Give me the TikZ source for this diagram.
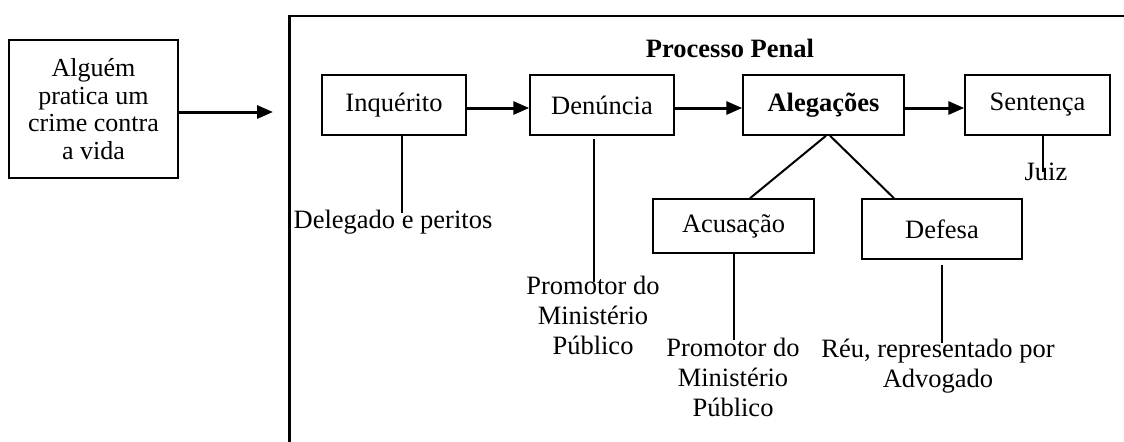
\documentclass[tikz,border=0pt]{standalone}
\usepackage{fontspec}
\setmainfont{Liberation Serif}
\usetikzlibrary{arrows.meta,calc}
\newcommand{\stk}[1]{\begin{tabular}[t]{@{}c@{}}#1\end{tabular}}
\begin{document}
\begin{tikzpicture}[x=0.5pt,y=-0.5pt,
  every node/.style={font=\fontsize{13.25}{15}\selectfont, inner sep=0pt},
  box/.style={draw, line width=0.75pt, minimum height=30pt},
  arr/.style={line width=1.5pt, -{Triangle[length=8pt,width=6.5pt]}},
  conn/.style={line width=1pt},
  frame/.style={line width=1.25pt}]
\useasboundingbox (0,0) rectangle (1124,441);
% left box
\node[box, minimum width=84.5pt, minimum height=69pt, align=center,
      font=\fontsize{13}{13.75}\selectfont] (start) at (93.5,109)
      {Alguém\\pratica um\\crime contra\\a vida};
\coordinate (tip) at (273,112);
\draw[arr] (start.east |- tip) -- (tip);
% frame
\coordinate (fb) at (289.5,443);
\coordinate (fc) at (289.5,16);
\coordinate (fr) at (1126,16);
\draw[frame] (fb) -- (fc) -- (fr);
\node[font=\bfseries\fontsize{13.25}{15}\selectfont, anchor=base] (title) at (730,57) {Processo Penal};
% main boxes
\node[box, minimum width=72pt] (inq) at (394,105) {Inquérito};
\node[box, minimum width=72pt] (den) at (602,105) {Denúncia};
\node[box, minimum width=80.5pt, font=\bfseries\fontsize{13.25}{15}\selectfont] (ale) at (823.5,105) {Alegações};
\node[box, minimum width=72.5pt] (sen) at (1037.5,105) {Sentença};
\node[box, minimum width=80.5pt, minimum height=27pt] (acu) at (733.5,226) {Acusação};
\node[box, minimum width=80pt, minimum height=30pt] (def) at (942,229) {Defesa};
% arrows
\draw[arr] ($(inq.east)+(0,3)$) -- ($(den.west)+(0,3)$);
\draw[arr] ($(den.east)+(0,3)$) -- ($(ale.west)+(0,3)$);
\draw[arr] ($(ale.east)+(0,3)$) -- ($(sen.west)+(0,3)$);
% diagonals
\draw[conn] ($(ale.south)+(2.5,0)$) -- ($(acu.north)+(16.5,0)$);
\draw[conn] ($(ale.south)+(6.5,0)$) -- ($(def.north)+(-48,0)$);
% labels
\node[anchor=base] (dlg) at (393,228) {Delegado e peritos};
\node[anchor=base] (pm1) at (593,294) {\stk{Promotor do\\Ministério\\Público}};
\node[anchor=base] (pm2) at (733,356) {\stk{Promotor do\\Ministério\\Público}};
\node[anchor=base] (reu) at (938,357) {\stk{Réu, representado por\\Advogado}};
\node[anchor=base] (juiz) at (1046,180) {Juiz};
% vertical connectors
\coordinate (dlE) at (402,213);
\draw[conn] (inq.south -| dlE) -- (dlE);
\coordinate (pmE) at (594,282);
\draw[conn] ($(den.south -| pmE)+(0,3)$) -- (pmE);
\coordinate (paE) at (734,340);
\draw[conn] (acu.south -| paE) -- (paE);
\coordinate (rdE) at (942,343);
\draw[conn] ($(def.south -| rdE)+(0,5)$) -- (rdE);
\coordinate (jzE) at (1043,172);
\draw[conn] (sen.south -| jzE) -- (jzE);
\end{tikzpicture}
\end{document}
